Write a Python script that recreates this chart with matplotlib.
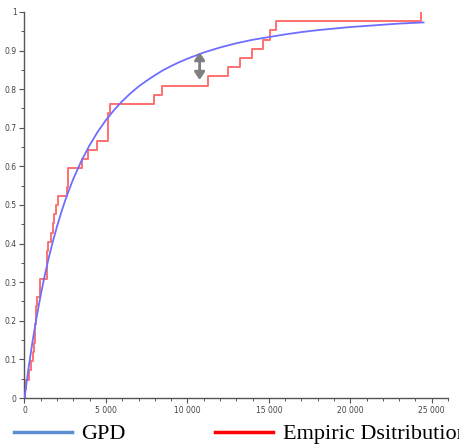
import matplotlib
matplotlib.use("Agg")
import matplotlib.pyplot as plt
from matplotlib.lines import Line2D
from matplotlib.ticker import MultipleLocator, FuncFormatter

# GPD fitted CDF
gpd_x = [0, 250, 500, 750, 1000, 1250, 1500, 1750, 2000, 2250, 2500, 2750, 3000, 3500,
         4000, 4500, 5000, 5500, 6000, 6500, 7000, 7500, 8000, 8500, 9000, 9500, 10000,
         11000, 12000, 13000, 14000, 15000, 16000, 17000, 18000, 19000, 20000, 21000,
         22000, 23000, 24500]
gpd_y = [0, 0.078, 0.148, 0.211, 0.268, 0.319, 0.365, 0.407, 0.445, 0.480, 0.512, 0.541,
         0.568, 0.615, 0.655, 0.690, 0.720, 0.746, 0.769, 0.789, 0.807, 0.822, 0.836,
         0.849, 0.860, 0.870, 0.879, 0.895, 0.908, 0.919, 0.928, 0.935, 0.942, 0.948,
         0.953, 0.957, 0.961, 0.964, 0.967, 0.970, 0.973]

# sorted sample (42 values) behind the empirical distribution
sample = [40, 100, 295, 400, 520, 580, 645, 675, 705, 725, 750, 950, 970, 1360,
          1380, 1400, 1460, 1625, 1730, 1830, 1930, 2055, 2590, 2690, 2700, 3560,
          3900, 4480, 5120, 5125, 5140, 5245, 7945, 8465, 11290, 12515, 13220,
          13960, 14635, 15065, 15435, 24330]

# max gap marker (x, lower, upper)
gap_x = 10750
gap_lo = 0.824
gap_hi = 0.896

n = len(sample)
emp_x = [0] + sample
emp_y = [0] + [k / n for k in range(1, n + 1)]

fig = plt.figure(figsize=(4.6, 4.48), dpi=100)
ax = fig.add_axes([24.5 / 460, 50 / 448, 423.5 / 460, 386 / 448])

ax.plot(gpd_x, gpd_y, color='#6e6eff', lw=1.3, zorder=3)
ax.plot(emp_x, emp_y, color='#ff7070', lw=1.4, drawstyle='steps-post', zorder=2)

# double arrow showing the largest distance
ax.annotate('', xy=(gap_x, gap_lo), xytext=(gap_x, gap_hi),
            arrowprops=dict(arrowstyle='<|-|>,head_length=0.45,head_width=0.3',
                            color='#7f7f7f', lw=2.0, mutation_scale=10,
                            shrinkA=0, shrinkB=0))

ax.set_xlim(0, 26000)
ax.set_ylim(0, 1)

for s in ['top', 'right']:
    ax.spines[s].set_visible(False)
for s in ['left', 'bottom']:
    ax.spines[s].set_color('#555555')
    ax.spines[s].set_linewidth(1.0)

ax.xaxis.set_major_locator(MultipleLocator(5000))
ax.xaxis.set_minor_locator(MultipleLocator(1000))
ax.yaxis.set_major_locator(MultipleLocator(0.1))
ax.yaxis.set_minor_locator(MultipleLocator(0.05))
ax.xaxis.set_major_formatter(FuncFormatter(lambda v, p: f"{int(round(v)):,}".replace(',', ' ')))
ax.yaxis.set_major_formatter(FuncFormatter(lambda v, p: f"{v:.1f}" if 0 < v < 1 else f"{v:.0f}"))
ax.tick_params(which='major', length=3.5, width=0.8, color='#555555', labelsize=5.5,
               labelcolor='#444444', pad=2)
ax.tick_params(which='minor', length=2, width=0.7, color='#555555')

handles = [Line2D([], [], color='#5b8fd1', lw=2.5), Line2D([], [], color='#ff0000', lw=2.5)]
fig.legend(handles, ['GPD', 'Empiric Dsitribution'], loc='center left',
           bbox_to_anchor=(0.03, 0.031), ncol=2, frameon=False, borderpad=0,
           borderaxespad=0, handlelength=2.6, handletextpad=0.45, columnspacing=4.0,
           prop={'family': 'Liberation Serif', 'size': 16})

fig.savefig('out.png', dpi=100)
